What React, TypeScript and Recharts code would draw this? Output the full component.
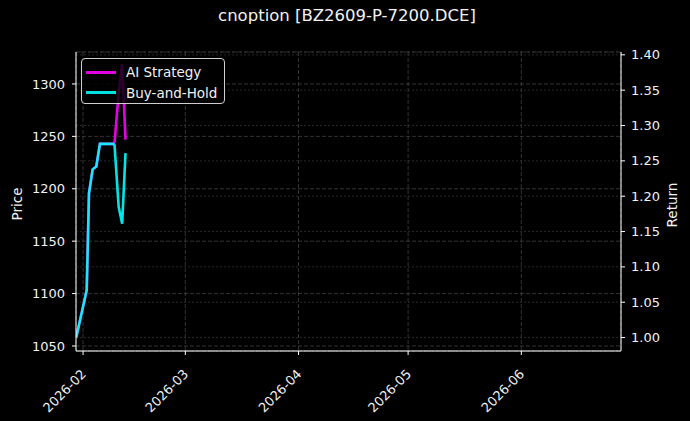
import React from "react";
import {
    ComposedChart,
    Line,
    XAxis,
    YAxis,
    CartesianGrid,
    Legend,
} from "recharts";

// bar times (UTC) and the two equity curves
const barTimes = [
    "2026-01-30T03:00:00Z",
    "2026-02-02T00:00:00Z",
    "2026-02-02T15:00:00Z",
    "2026-02-03T15:00:00Z",
    "2026-02-04T15:00:00Z",
    "2026-02-05T15:00:00Z",
    "2026-02-06T15:00:00Z",
    "2026-02-09T06:00:00Z",
    "2026-02-09T15:00:00Z",
    "2026-02-10T18:00:00Z",
    "2026-02-11T17:00:00Z",
    "2026-02-12T15:00:00Z",
];
const aiStrategy = [1.0, 1.067, 1.204, 1.238, 1.242, 1.274, 1.274, 1.274, 1.276, 1.346, 1.387, 1.28];
const buyAndHold = [1.0, 1.067, 1.204, 1.238, 1.242, 1.274, 1.274, 1.274, 1.272, 1.185, 1.161, 1.261];

const monthTicks = ["2026-02-01", "2026-03-01", "2026-04-01", "2026-05-01", "2026-06-01"];
const priceTicks = [1050, 1100, 1150, 1200, 1250, 1300];
const returnTicks = [1.0, 1.05, 1.1, 1.15, 1.2, 1.25, 1.3, 1.35, 1.4];

const FONT = "DejaVu Sans, sans-serif";
const TXT = "#f2f2f2";

const data = barTimes.map((t, i) => ({
    t: Date.parse(t),
    ai: aiStrategy[i],
    bh: buyAndHold[i],
}));

const xDomain = [Date.UTC(2026, 0, 30, 1, 40), Date.UTC(2026, 5, 28, 7, 0)];
const xTicks = monthTicks.map((d) => Date.parse(d + "T00:00:00Z"));

function fmtMonth(v: number) {
    const d = new Date(v);
    return `${d.getUTCFullYear()}-${String(d.getUTCMonth() + 1).padStart(2, "0")}`;
}

function DateTick({ x, y, payload }: any) {
    const ax = x - 3;
    const ay = y + 11;
    return (
        <text
            x={ax}
            y={ay}
            dy="0.75em"
            textAnchor="end"
            fill={TXT}
            fontSize={13}
            fontFamily={FONT}
            transform={`rotate(-45 ${ax} ${ay})`}
        >
            {fmtMonth(payload.value)}
        </text>
    );
}

function LegendBox({ payload }: any) {
    return (
        <div
            style={{
                background: "rgba(0,0,0,0.8)",
                border: "1px solid #cfcfcf",
                borderRadius: 4,
                width: 144,
                height: 46,
                boxSizing: "border-box",
                padding: "3px 0 0 4px",
            }}
        >
            {(payload || []).map((p: any) => (
                <div key={p.value} style={{ display: "flex", alignItems: "center", height: 20.5 }}>
                    <div style={{ width: 30, height: 3, background: p.color, opacity: 0.88 }} />
                    <span
                        style={{
                            marginLeft: 10,
                            color: TXT,
                            fontFamily: FONT,
                            fontSize: 13.5,
                            whiteSpace: "nowrap",
                        }}
                    >
                        {p.value}
                    </span>
                </div>
            ))}
        </div>
    );
}

export default function App() {
    return (
        <div style={{ position: "relative", width: 690, height: 421, background: "#000" }}>
            <style>{"body{margin:0;background:#000}"}</style>
            <div
                style={{
                    position: "absolute",
                    top: 6,
                    left: 0,
                    width: 694,
                    textAlign: "center",
                    color: TXT,
                    fontFamily: FONT,
                    fontSize: 16.5,
                }}
            >
                cnoption [BZ2609-P-7200.DCE]
            </div>
            <div
                style={{
                    position: "absolute",
                    left: 17,
                    top: 204,
                    transform: "translate(-50%, -50%) rotate(-90deg)",
                    color: TXT,
                    fontFamily: FONT,
                    fontSize: 13.5,
                }}
            >
                Price
            </div>
            <div
                style={{
                    position: "absolute",
                    left: 672,
                    top: 205,
                    transform: "translate(-50%, -50%) rotate(-90deg)",
                    color: TXT,
                    fontFamily: FONT,
                    fontSize: 13.5,
                }}
            >
                Return
            </div>
            <ComposedChart
                width={690}
                height={421}
                data={data}
                margin={{ top: 52, right: 9, bottom: 0, left: 6 }}
                style={{ position: "absolute", top: 0, left: 0 }}
            >
                <CartesianGrid
                    xAxisId="date"
                    yAxisId="price"
                    stroke="#4a4a4a"
                    strokeDasharray="4 2"
                    strokeWidth={0.7}
                />
                <CartesianGrid
                    xAxisId="date"
                    yAxisId="ret"
                    vertical={false}
                    stroke="#3a3a3a"
                    strokeDasharray="2 2"
                    strokeWidth={0.7}
                />
                <XAxis
                    xAxisId="date"
                    dataKey="t"
                    type="number"
                    scale="time"
                    domain={xDomain}
                    ticks={xTicks}
                    interval={0}
                    allowDataOverflow
                    height={70}
                    tickSize={4}
                    stroke="#fff"
                    tickLine={{ stroke: "#fff" }}
                    tick={<DateTick />}
                />
                <XAxis
                    xAxisId="top"
                    orientation="top"
                    type="number"
                    domain={xDomain}
                    height={0}
                    tick={false}
                    tickLine={false}
                    stroke="#fff"
                />
                <YAxis
                    yAxisId="price"
                    orientation="left"
                    type="number"
                    domain={[1045.2, 1330.5]}
                    ticks={priceTicks}
                    interval={0}
                    allowDataOverflow
                    width={70}
                    tickSize={4}
                    tickMargin={7}
                    stroke="#fff"
                    tick={{ fill: TXT, fontSize: 13, fontFamily: FONT }}
                />
                <YAxis
                    yAxisId="ret"
                    orientation="right"
                    type="number"
                    domain={[0.981, 1.404]}
                    ticks={returnTicks}
                    interval={0}
                    allowDataOverflow
                    width={60}
                    tickSize={4}
                    tickMargin={6}
                    stroke="#fff"
                    tickFormatter={(v: number) => v.toFixed(2)}
                    tick={{ fill: TXT, fontSize: 13, fontFamily: FONT }}
                />
                <Legend
                    layout="horizontal"
                    align="center"
                    verticalAlign="middle"
                    content={<LegendBox />}
                    wrapperStyle={{ left: 81, top: 58, width: 144 }}
                />
                <Line
                    xAxisId="date"
                    yAxisId="ret"
                    dataKey="ai"
                    name="AI Strategy"
                    stroke="#ff00ff"
                    strokeOpacity={0.9}
                    strokeWidth={2.6}
                    dot={false}
                    activeDot={false}
                    isAnimationActive={false}
                />
                <Line
                    xAxisId="date"
                    yAxisId="ret"
                    dataKey="bh"
                    name="Buy-and-Hold"
                    stroke="#00ffff"
                    strokeOpacity={0.9}
                    strokeWidth={2.6}
                    dot={false}
                    activeDot={false}
                    isAnimationActive={false}
                />
            </ComposedChart>
        </div>
    );
}
